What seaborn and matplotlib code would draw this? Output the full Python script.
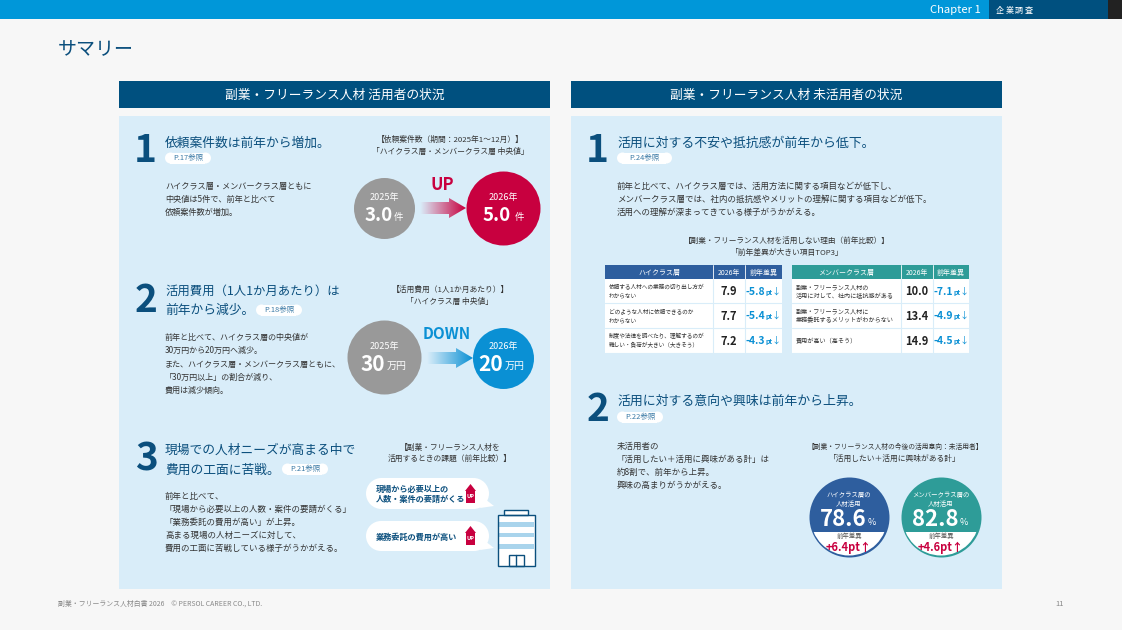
import numpy as np
import pandas as pd
import seaborn as sns
import matplotlib.pyplot as plt
from matplotlib.colors import LinearSegmentedColormap
from matplotlib.patches import Rectangle, Circle, Polygon

# ------------------ Data ------------------
left_title = "副業・フリーランス人材 活用者の状況"
right_title = "副業・フリーランス人材 未活用者の状況"

cases_years = ["2025年", "2026年"]
cases_values = ["3.0", "5.0"]
cases_unit = "件"
cost_values = ["30", "20"]
cost_unit = "万円"

high_labels = [["依頼する人材への業務の切り出し方が", "わからない"],
               ["どのような人材に依頼できるのか", "わからない"],
               ["制度や法律を調べたり、理解するのが", "難しい・負荷が大きい（大きそう）"]]
high_2026 = [7.9, 7.7, 7.2]
high_diff = [-5.8, -5.4, -4.3]

member_labels = [["副業・フリーランス人材の", "活用に対して、社内に抵抗感がある"],
                 ["副業・フリーランス人材に", "業務委託するメリットがわからない"],
                 ["費用が高い（高そう）"]]
member_2026 = [10.0, 13.4, 14.9]
member_diff = [-7.1, -4.9, -4.5]

intent_names = [["ハイクラス層の", "人材活用"], ["メンバークラス層の", "人材活用"]]
intent_values = [78.6, 82.8]
intent_diff = [6.4, 4.6]

body_l1 = ["ハイクラス層・メンバークラス層ともに", "中央値は5件で、前年と比べて", "依頼案件数が増加。"]
body_l2 = ["前年と比べて、ハイクラス層の中央値が", "30万円から20万円へ減少。", "また、ハイクラス層・メンバークラス層ともに、",
           "「30万円以上」の割合が減り、", "費用は減少傾向。"]
body_l3 = ["前年と比べて、", "「現場から必要以上の人数・案件の要請がくる」", "「業務委託の費用が高い」が上昇。",
           "高まる現場の人材ニーズに対して、", "費用の工面に苦戦している様子がうかがえる。"]
body_r1 = ["前年と比べて、ハイクラス層では、活用方法に関する項目などが低下し、",
           "メンバークラス層では、社内の抵抗感やメリットの理解に関する項目などが低下。",
           "活用への理解が深まってきている様子がうかがえる。"]
body_r2 = ["未活用者の", "「活用したい＋活用に興味がある計」は", "約8割で、前年から上昇。", "興味の高まりがうかがえる。"]

# ------------------ Style ------------------
NAVY = "#0b4f7d"
TEXT = "#333333"
PANEL = "#d9edf9"
GRAY = "#999999"
RED = "#c8003f"
BLUE = "#0a90d4"
HIGH = "#2e5e9e"
MEMBER = "#2e9c98"

sns.set_theme(style="white")
plt.rcParams["font.family"] = ["Noto Sans CJK JP", "DejaVu Sans"]

fig = plt.figure(figsize=(11.22, 6.30), dpi=100, facecolor="#f7f7f7")
ax = fig.add_axes([0, 0, 1, 1])
ax.set_axis_off()


def T(x, y, s, size=6.1, color=TEXT, weight="normal", ha="left"):
    # va center sits a little high for this font, so push it down with the size
    ax.text(x, y + size * 0.1, s, fontsize=size, color=color, fontweight=weight, ha=ha, va="center", zorder=6)


def R(x0, y0, x1, y1, color, z=1):
    ax.add_patch(Rectangle((x0, y0), x1 - x0, y1 - y0, facecolor=color, edgecolor="none", zorder=z))


def lines(x, ys, rows, **kw):
    for y, row in zip(ys, rows):
        T(x, y, row, **kw)


def capsule(x0, x1, y0, y1):
    r = (y1 - y0) / 2
    R(x0 + r, y0, x1 - r, y1, "white", z=3)
    ax.add_patch(Circle((x0 + r, y0 + r), r, facecolor="white", edgecolor="none", zorder=3))
    ax.add_patch(Circle((x1 - r, y0 + r), r, facecolor="white", edgecolor="none", zorder=3))


def pill(x0, x1, y, s):
    capsule(x0, x1, y - 5.5, y + 5.5)
    T((x0 + x1) / 2, y, s, size=5.4, color="#3a7aa6", ha="center")


def bubbles(xs, ys, rs, colors):
    # marker size is in points^2, so pixel diameters get converted
    df = pd.DataFrame({"x": xs, "y": ys})
    for i in range(len(df)):
        sns.scatterplot(data=df.iloc[[i]], x="x", y="y", s=(2 * rs[i] * 0.72) ** 2, color=colors[i],
                        linewidth=0, ax=ax, legend=False, zorder=4)


def grad_arrow(x0, x1, y, color):
    cmap = LinearSegmentedColormap.from_list("g", [PANEL, color])
    im = ax.imshow(np.linspace(0, 1, 64).reshape(1, -1), cmap=cmap, aspect="auto",
                   extent=(x0, x1, y + 10, y - 10), zorder=3)
    head = x1 - 17
    clip = Polygon([(x0, y - 6), (head, y - 6), (head, y - 10), (x1, y), (head, y + 10), (head, y + 6), (x0, y + 6)],
                   transform=ax.transData, facecolor="none", edgecolor="none")
    ax.add_patch(clip)
    im.set_clip_path(clip)


def up_arrow(x0, x1, y0, y1):
    xm = (x0 + x1) / 2
    ax.add_patch(Polygon([(xm, y0), (x1, y0 + 7), (x1 - 1, y0 + 7), (x1 - 1, y1), (x0 + 1, y1), (x0 + 1, y0 + 7),
                          (x0, y0 + 7)], facecolor=RED, edgecolor="none", zorder=4))
    T(xm, y1 - 7, "UP", size=4, color="white", weight="bold", ha="center")


# ------------------ Frame ------------------
R(0, 0, 989, 19, "#0097d9")
R(989, 0, 1108, 19, "#00507f")
R(1108, 0, 1122, 19, "#222222")
T(981, 9, "Chapter 1", size=8.1, color="white", ha="right")
for i, ch in enumerate("企業調査"):
    T(996 + i * 9.6, 9.5, ch, size=5.8, color="white")
T(58, 48, "サマリー", size=13.7, color=NAVY)
T(58, 603, "副業・フリーランス人材白書 2026　© PERSOL CAREER CO., LTD.", size=4.95, color="#888888")
T(1060, 603, "11", size=5.5, color="#888888", ha="center")

for x0, x1, title in [(119, 550, left_title), (571, 1002, right_title)]:
    R(x0, 81, x1, 108, "#00507f")
    R(x0, 116, x1, 589, PANEL)
    T((x0 + x1) / 2, 94, title, size=9.2, color="white", ha="center")

# ------------------ Left panel ------------------
NUM = dict(size=28, color=NAVY, weight="bold", ha="center")
HEAD = dict(size=9.2, color=NAVY)
SUB = dict(size=5.6, ha="center")

T(145, 148, "1", **NUM)
T(165, 142, "依頼案件数は前年から増加。", **HEAD)
pill(165, 211, 158, "P.17参照")
lines(165, [186, 199, 212], body_l1, size=5.9)
T(450, 139, "【依頼案件数（期間：2025年1〜12月）】", **SUB)
T(450, 151, "「ハイクラス層・メンバークラス層 中央値」", **SUB)

bubbles([384, 503, 384, 503], [208, 208, 357, 357.5], [30.5, 37, 37, 30.5], [GRAY, RED, GRAY, BLUE])
T(384, 197, cases_years[0], size=6.5, color="white", ha="center")
T(503, 197, cases_years[1], size=6.5, color="white", ha="center")
T(393, 214, cases_values[0], size=13.5, color="white", weight="bold", ha="right")
T(394, 217, cases_unit, size=6.8, color="white")
T(511, 214, cases_values[1], size=13.5, color="white", weight="bold", ha="right")
T(515, 217, cases_unit, size=6.8, color="white")
T(442, 184, "UP", size=12, color=RED, weight="bold", ha="center")
grad_arrow(420, 466, 208, RED)

T(146, 298, "2", **NUM)
T(165, 290, "活用費用（1人1か月あたり）は", size=8.9, color=NAVY)
T(165, 310, "前年から減少。", **HEAD)
pill(256, 302, 310, "P.18参照")
lines(165, [337, 350, 364, 377, 390], body_l2, size=5.8)
T(450, 289, "【活用費用（1人1か月あたり）】", **SUB)
T(450, 301, "「ハイクラス層 中央値」", **SUB)
T(384, 346, cases_years[0], size=6.5, color="white", ha="center")
T(503, 346, cases_years[1], size=6.5, color="white", ha="center")
T(385, 363, cost_values[0], size=15, color="white", weight="bold", ha="right")
T(387, 365, cost_unit, size=7.2, color="white")
T(503, 363, cost_values[1], size=15, color="white", weight="bold", ha="right")
T(505, 365, cost_unit, size=7.2, color="white")
T(447, 333, "DOWN", size=11, color=BLUE, weight="bold", ha="center")
grad_arrow(427, 473, 358, BLUE)

T(146, 456, "3", **NUM)
T(165, 449, "現場での人材ニーズが高まる中で", **HEAD)
T(165, 469, "費用の工面に苦戦。", **HEAD)
pill(282, 328, 469, "P.21参照")
lines(165, [496, 509, 522, 535, 548], body_l3)
T(450, 447, "【副業・フリーランス人材を", **SUB)
T(450, 458, "活用するときの課題（前年比較）】", **SUB)

for y0, y1 in [(478, 509), (521, 551)]:
    capsule(366, 489, y0, y1)
    ax.add_patch(Polygon([(480, y1 - 1), (494, y1 - 3), (485, y1 - 10)], facecolor="white", edgecolor="none", zorder=3))
T(376, 489, "現場から必要以上の", size=5.9, color=NAVY, weight="bold")
T(376, 499, "人数・案件の要請がくる", size=5.9, color=NAVY, weight="bold")
T(376, 537, "業務委託の費用が高い", size=5.9, color=NAVY, weight="bold")
up_arrow(465, 476, 484, 503)
up_arrow(465, 476, 526, 545)

# building
R(498, 515, 535, 566, "white", z=3)
R(504, 510, 528, 515, "white", z=3)
for y0, y1 in [(522, 527), (533, 537), (544, 549)]:
    R(499, y0, 534, y1, "#a9d4ec", z=4)
for x0, y0, x1, y1 in [(498, 515, 535, 566), (504, 510, 528, 515), (509, 555, 524, 566)]:
    ax.add_patch(Rectangle((x0, y0), x1 - x0, y1 - y0, facecolor="none", edgecolor=NAVY, linewidth=1, zorder=5))
ax.plot([516.5, 516.5], [555, 566], color=NAVY, lw=1, zorder=5)

# ------------------ Right panel ------------------
T(597, 148, "1", **NUM)
T(617, 142, "活用に対する不安や抵抗感が前年から低下。", size=9.3, color=NAVY)
pill(617, 672, 158, "P.24参照")
lines(617, [186, 199, 212], body_r1)
T(787, 240, "【副業・フリーランス人材を活用しない理由（前年比較）】", size=5.5, ha="center")
T(787, 252, "「前年差異が大きい項目TOP3」", **SUB)


def table(x0, x1, x2, x3, color, name, labels, vals, diffs, lab_size):
    rows = [(279, 303), (303, 328), (328, 353)]
    R(x0, 265, x3, 279, color, z=2)
    for xa, xb, s in [(x0, x1, name), (x1, x2, "2026年"), (x2, x3, "前年差異")]:
        T((xa + xb) / 2, 272, s, size=5, color="white", ha="center")
        if xa != x0:
            ax.plot([xa, xa], [265, 279], color="white", lw=0.6, zorder=3)
    R(x0, 279, x3, 353, "white", z=2)
    for (y0, y1), lab, v, d in zip(rows, labels, vals, diffs):
        ym = (y0 + y1) / 2
        if len(lab) == 1:
            T(x0 + 4, ym, lab[0], size=lab_size)
        else:
            T(x0 + 4, ym - 4.5, lab[0], size=lab_size)
            T(x0 + 4, ym + 4.5, lab[1], size=lab_size)
        T((x1 + x2) / 2, ym, f"{v:.1f}", size=8, weight="bold", ha="center", color="#222222")
        T(x2 + 20.5, ym, f"{d:.1f}", size=7.5, weight="bold", color=BLUE, ha="right")
        T(x2 + 20.5, ym + 0.8, "pt", size=4.8, weight="bold", color=BLUE)
        T(x2 + 31, ym, "↓", size=6.5, color=BLUE, ha="center")
        ax.plot([x0, x3], [y1, y1], color=PANEL, lw=0.8, zorder=3)
    for x in (x1, x2):
        ax.plot([x, x], [279, 353], color=PANEL, lw=0.8, zorder=3)


table(605, 713, 745, 782, HIGH, "ハイクラス層", high_labels, high_2026, high_diff, 4.1)
table(792, 901, 933, 969, MEMBER, "メンバークラス層", member_labels, member_2026, member_diff, 4.4)

T(598, 407, "2", **NUM)
T(617, 400, "活用に対する意向や興味は前年から上昇。", size=9.3, color=NAVY)
pill(617, 663, 417, "P.22参照")
lines(617, [446, 459, 472, 485], body_r2)
T(895, 446, "【副業・フリーランス人材の今後の活用意向：未活用者】", size=4.9, ha="center")
T(895, 458, "「活用したい＋活用に興味がある計」", **SUB)

centers = [849, 941]
bubbles(centers, [517, 517], [40, 40], [HIGH, MEMBER])
for cx, name, v, d in zip(centers, intent_names, intent_values, intent_diff):
    low = Circle((cx, 517), 38.5, facecolor="white", edgecolor="none", zorder=5)
    ax.add_patch(low)
    low.set_clip_path(Rectangle((cx - 40, 532), 80, 30, transform=ax.transData))
    T(cx, 495, name[0], size=4.6, color="white", ha="center")
    T(cx, 504, name[1], size=4.6, color="white", ha="center")
    T(cx + 18, 518, f"{v:.1f}", size=16, color="white", weight="bold", ha="right")
    T(cx + 19, 522, "%", size=6.5, color="white")
    T(cx, 536, "前年差異", size=4.6, ha="center", color="#555555")
    T(cx, 547, f"+{d:.1f}pt↑", size=8, color=RED, weight="bold", ha="center")

ax.set_xlim(0, 1122)
ax.set_ylim(630, 0)
ax.set_axis_off()
fig.savefig("out.png", dpi=100, facecolor=fig.get_facecolor())
